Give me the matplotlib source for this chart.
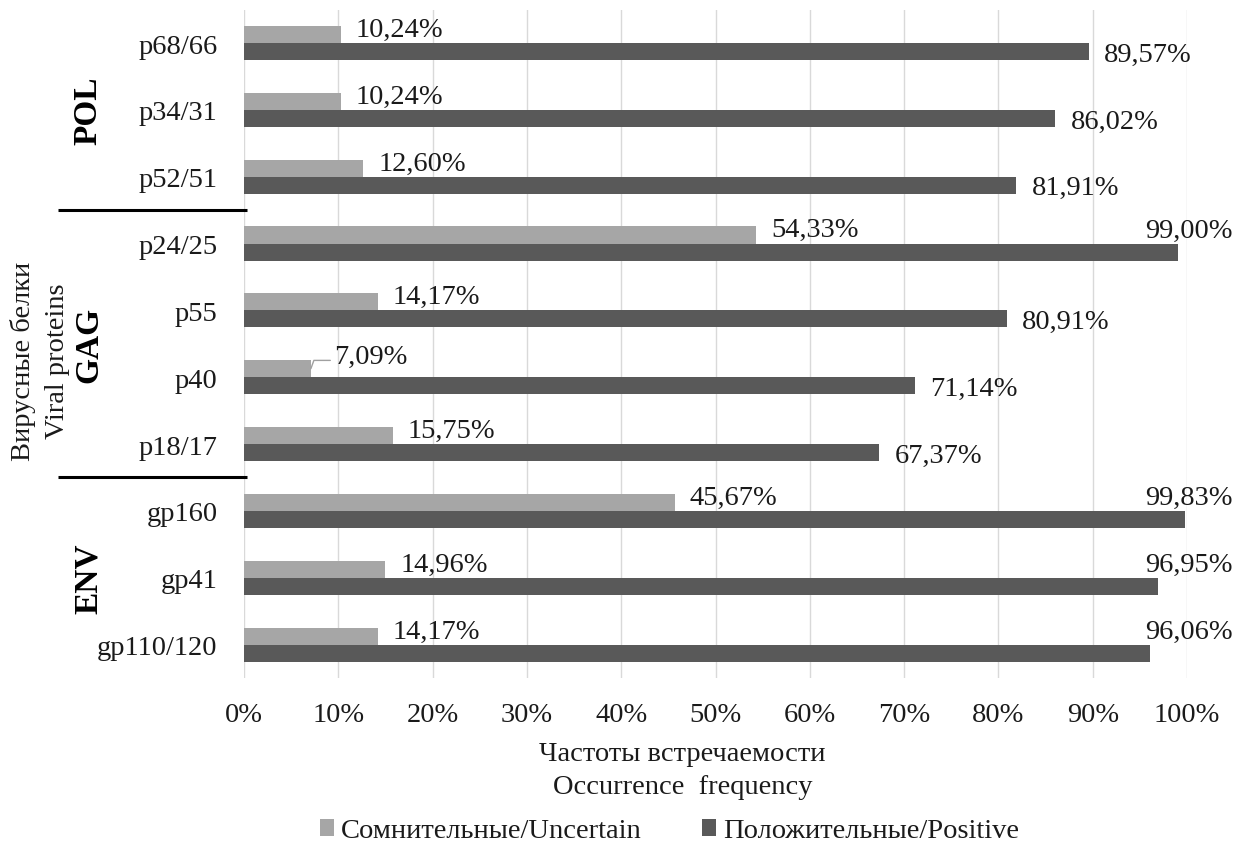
import matplotlib
matplotlib.use("Agg")
import matplotlib.pyplot as plt
from matplotlib.patches import Patch
import matplotlib.transforms as mtransforms
import numpy as np

plt.rcParams['font.family'] = ['Liberation Serif', 'DejaVu Serif']

categories = ['p68/66', 'p34/31', 'p52/51', 'p24/25', 'p55', 'p40', 'p18/17',
              'gp160', 'gp41', 'gp110/120']
uncertain = [10.24, 10.24, 12.60, 54.33, 14.17, 7.09, 15.75, 45.67, 14.96, 14.17]
positive = [89.57, 86.02, 81.91, 99.00, 80.91, 71.14, 67.37, 99.83, 96.95, 96.06]
groups = ['POL', 'GAG', 'ENV']
group_sizes = [3, 4, 3]
xticks = [0, 10, 20, 30, 40, 50, 60, 70, 80, 90, 100]
series_names = ['Сомнительные/Uncertain', 'Положительные/Positive']
ylabel_text = 'Вирусные белки\nViral proteins'
xlabel_lines = ['Частоты встречаемости', 'Occurrence  frequency']

LIGHT = '#a6a6a6'
DARK = '#595959'
GRID = '#d9d9d9'
TXT = '#1a1a1a'
FS = 20.5

fig = plt.figure(figsize=(12.41, 8.45), dpi=100)
ax = fig.add_axes([0.19662, 0.19645, 0.75987, 0.79101])

y = np.arange(len(categories))
h = 0.255
ax.barh(y - h / 2, uncertain, height=h, color=LIGHT, zorder=3)
ax.barh(y + h / 2, positive, height=h, color=DARK, zorder=3)

ax.set_xlim(0, 100)
ax.set_ylim(len(categories) - 0.5, -0.5)
ax.set_xticks(xticks)
ax.set_xticklabels([f'{t}%' for t in xticks], fontsize=FS, color=TXT)
ax.set_yticks(y)
ax.set_yticklabels(categories, fontsize=FS, color=TXT)
ax.tick_params(axis='both', length=0)
ax.tick_params(axis='x', pad=17)
ax.tick_params(axis='y', pad=19)
ax.grid(axis='x', color=GRID, lw=1, zorder=0)
for s in ['top', 'right', 'bottom', 'left']:
    ax.spines[s].set_visible(False)


def fmt(v):
    return f'{v:.2f}%'.replace('.', ',')


# uncertain labels
min_u = min(uncertain)
for yi, v in zip(y, uncertain):
    if v == min_u:
        ax.annotate(fmt(v), xy=(v, yi - h / 2), xytext=(17, 4), textcoords='offset points',
                    ha='left', va='baseline', fontsize=FS, color=TXT,
                    arrowprops=dict(arrowstyle='-', color='#a0a0a0', lw=1,
                                    relpos=(0, 0.35), shrinkA=1, shrinkB=0,
                                    connectionstyle='angle,angleA=0,angleB=70,rad=0'))
    else:
        ax.annotate(fmt(v), xy=(v, yi - h / 2), xytext=(11, -1), textcoords='offset points',
                    ha='left', va='baseline', fontsize=FS, color=TXT)

# positive labels
for yi, v in zip(y, positive):
    if v >= 95:
        ax.annotate(fmt(v), xy=(100, yi + h / 2), xytext=(33, 11), textcoords='offset points',
                    ha='right', va='baseline', fontsize=FS, color=TXT)
    else:
        ax.annotate(fmt(v), xy=(v, yi + h / 2), xytext=(11, -6.5), textcoords='offset points',
                    ha='left', va='baseline', fontsize=FS, color=TXT)

# group labels and dividers
trans = mtransforms.blended_transform_factory(ax.transAxes, ax.transData)
start = 0
for gi, (g, n) in enumerate(zip(groups, group_sizes)):
    center = start + (n - 1) / 2
    ax.text(-0.165, center, g, transform=trans, rotation=90, ha='center', va='center',
            fontsize=24, fontweight='bold', color='black')
    end = start + n
    if gi < len(groups) - 1:
        ax.plot([-0.197, 0.003], [end - 0.5, end - 0.5], transform=trans, color='black',
                lw=2.2, clip_on=False, solid_capstyle='butt')
    start = end

ax.text(-0.2163, 4.75, ylabel_text, transform=trans, rotation=90, ha='center', va='center',
        fontsize=FS, color=TXT, linespacing=1.5)

fig.text(0.550, 1 - 755 / 845, xlabel_lines[0], ha='center', va='center', fontsize=FS, color=TXT)
fig.text(0.550, 1 - 788 / 845, xlabel_lines[1], ha='center', va='center', fontsize=FS, color=TXT)

handles = [Patch(facecolor=LIGHT, edgecolor='none'), Patch(facecolor=DARK, edgecolor='none')]
fig.legend(handles, series_names, loc='center', bbox_to_anchor=(0.5395, 1 - 832 / 845), ncol=2,
           frameon=False, fontsize=FS, handlelength=0.5, handleheight=0.5, handletextpad=0.25,
           columnspacing=2.1, borderpad=0, labelcolor=TXT)

fig.savefig('out.png', dpi=100)
